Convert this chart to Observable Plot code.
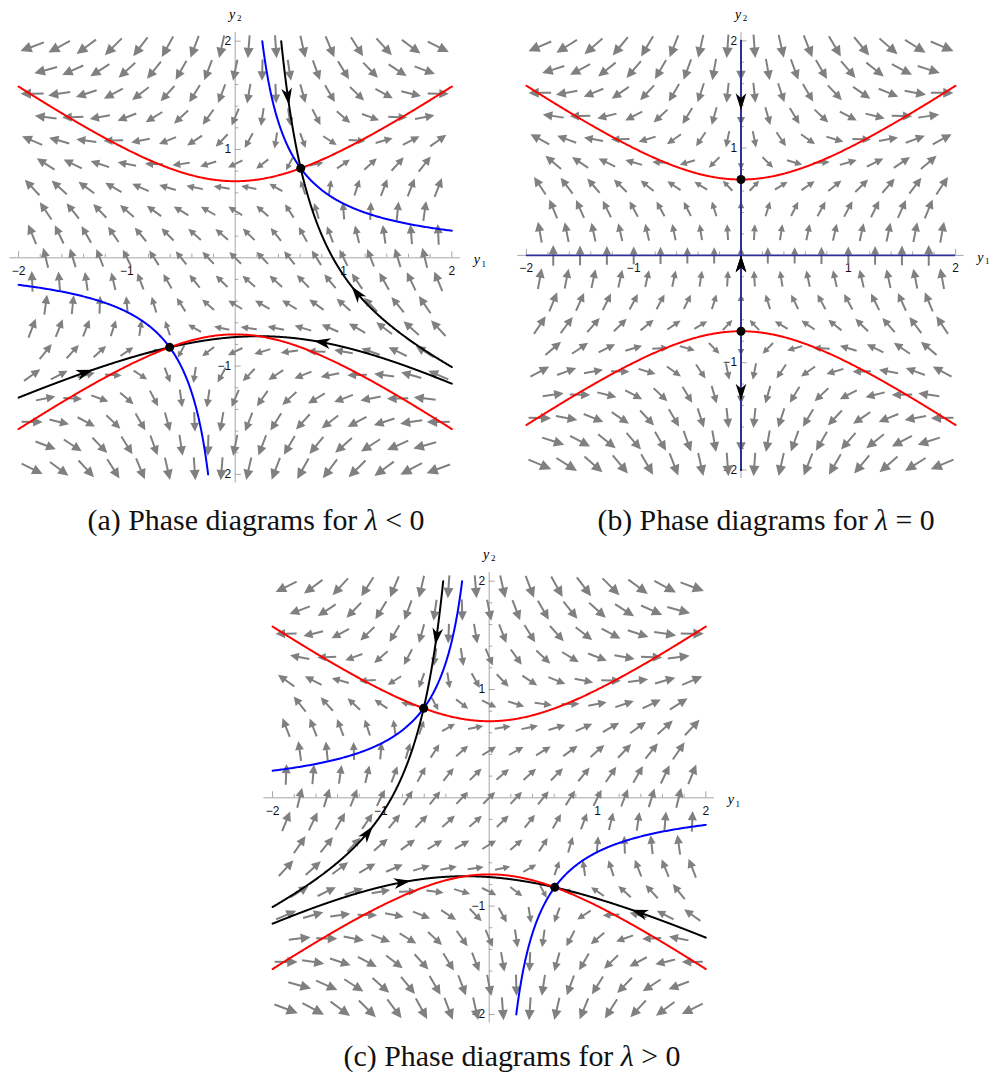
<!DOCTYPE html>
<html>
<head>
<meta charset="utf-8">
<script src="https://cdn.jsdelivr.net/npm/d3@7"></script>
<script src="https://cdn.jsdelivr.net/npm/@observablehq/plot@0.6"></script>
<style>
  body { margin: 0; background: #fff; }
  #fig { position: relative; width: 993px; height: 1074px; overflow: hidden; }
  .panel { position: absolute; }
  .cap {
    position: absolute; white-space: nowrap; color: #111;
    font-family: "Liberation Serif", "Times New Roman", serif; font-size: 23px;
    transform: translate(-50%, -50%);
  }
</style>
</head>
<body>
<div id="fig"></div>
<script>
// System: y1' = y1*y2 + λ,  y2' = (1 + y1²)/2 − y2²
const lambdaValues = [-0.5, 0, 0.5];
const panelTags = ["(a)", "(b)", "(c)"];
const relationSigns = ["<", "=", ">"];

// Equilibria (saddles) of each system
const equilibria = [
  [[0.6050, 0.8265], [-0.6050, -0.8265]],
  [[0, 0.7071], [0, -0.7071]],
  [[-0.6050, 0.8265], [0.6050, -0.8265]]
];
// Invariant manifolds drawn in black: [equilibrium index, kind]
const manifolds = [
  [[0, "stable"], [1, "stable"]],
  [[0, "stable"], [1, "unstable"]],
  [[0, "stable"], [1, "stable"]]
];

// Axis ticks
const majorTicks = [-2, -1, 1, 2];
const minorTicks = [-1.8, -1.6, -1.4, -1.2, -0.8, -0.6, -0.4, -0.2, 0.2, 0.4, 0.6, 0.8, 1.2, 1.4, 1.6, 1.8];

// Staggered sample lattice for the direction field
const gridRows = [-1.9486, -1.7321, -1.5155, -1.2990, -1.0825, -0.8660, -0.6495, -0.4330, -0.2165, 0,
                  0.2165, 0.4330, 0.6495, 0.8660, 1.0825, 1.2990, 1.5155, 1.7321, 1.9486];
const colsWide = [-1.875, -1.625, -1.375, -1.125, -0.875, -0.625, -0.375, -0.125,
                  0.125, 0.375, 0.625, 0.875, 1.125, 1.375, 1.625, 1.875];
const colsNarrow = [-1.75, -1.5, -1.25, -1, -0.75, -0.5, -0.25, 0, 0.25, 0.5, 0.75, 1, 1.25, 1.5, 1.75];

const panelPos = [[0, 0], [507.6, 0], [254, 540]];
const captionPos = [[256, 520], [766, 520], [512, 1056]];

function field(lam, p) {
  return [p[0] * p[1] + lam, 0.5 * (1 + p[0] * p[0]) - p[1] * p[1]];
}

function eigvec(e, kind) {
  const [a, b] = e;
  // Jacobian [[y2, y1], [y1, -2 y2]]
  const tr = -b, det = -2 * b * b - a * a;
  const s = Math.sqrt(tr * tr - 4 * det);
  const mu = kind === "stable" ? (tr - s) / 2 : (tr + s) / 2;
  let v = [a, mu - b];
  let n = Math.hypot(v[0], v[1]);
  if (n < 1e-9) { v = [1, 0]; n = 1; }
  return [v[0] / n, v[1] / n];
}

function traceBranch(lam, eqs, idx, dirSign, kind) {
  const e = eqs[idx];
  const v = eigvec(e, kind);
  const sgn = kind === "stable" ? -1 : 1;
  const h = 0.004;
  const g = q => {
    const f = field(lam, q);
    const m = Math.hypot(f[0], f[1]) || 1e-12;
    return [sgn * f[0] / m, sgn * f[1] / m];
  };
  const pts = [[e[0], e[1]]];
  let p = [e[0] + dirSign * 0.002 * v[0], e[1] + dirSign * 0.002 * v[1]];
  pts.push(p);
  for (let i = 0; i < 5000; i++) {
    const k1 = g(p);
    const k2 = g([p[0] + h / 2 * k1[0], p[1] + h / 2 * k1[1]]);
    const k3 = g([p[0] + h / 2 * k2[0], p[1] + h / 2 * k2[1]]);
    const k4 = g([p[0] + h * k3[0], p[1] + h * k3[1]]);
    const q = [p[0] + h / 6 * (k1[0] + 2 * k2[0] + 2 * k3[0] + k4[0]),
               p[1] + h / 6 * (k1[1] + 2 * k2[1] + 2 * k3[1] + k4[1])];
    if (Math.abs(q[0]) > 2 || Math.abs(q[1]) > 2) {
      let t = 1;
      for (const c of [0, 1]) {
        if (Math.abs(q[c]) > 2) t = Math.min(t, (Math.sign(q[c]) * 2 - p[c]) / (q[c] - p[c]));
      }
      pts.push([p[0] + t * (q[0] - p[0]), p[1] + t * (q[1] - p[1])]);
      break;
    }
    pts.push(q);
    p = q;
    if (eqs.some((o, j) => j !== idx && Math.hypot(q[0] - o[0], q[1] - o[1]) < 0.005)) break;
  }
  return pts;
}

function midHead(pts, kind) {
  const cum = [0];
  for (let i = 1; i < pts.length; i++) cum.push(cum[i - 1] + Math.hypot(pts[i][0] - pts[i - 1][0], pts[i][1] - pts[i - 1][1]));
  const half = cum[cum.length - 1] / 2;
  let i = 1;
  while (i < pts.length - 1 && cum[i] < half) i++;
  const t = (half - cum[i - 1]) / (cum[i] - cum[i - 1] || 1);
  const x = pts[i - 1][0] + t * (pts[i][0] - pts[i - 1][0]);
  const y = pts[i - 1][1] + t * (pts[i][1] - pts[i - 1][1]);
  let dx = pts[i][0] - pts[i - 1][0], dy = pts[i][1] - pts[i - 1][1];
  if (kind === "stable") { dx = -dx; dy = -dy; }
  return {x, y, rot: Math.atan2(dx, dy) * 180 / Math.PI};
}

// Filled arrow (shaft + triangular head), pointing along −y before rotation
const fieldArrow = {
  draw(ctx, l) {
    const sw = 1.0, hl = 0.45 * l, hw = 0.22 * l;
    ctx.moveTo(-sw, 0);
    ctx.lineTo(-sw, -(l - hl));
    ctx.lineTo(-hw, -(l - hl));
    ctx.lineTo(0, -l);
    ctx.lineTo(hw, -(l - hl));
    ctx.lineTo(sw, -(l - hl));
    ctx.lineTo(sw, 0);
    ctx.closePath();
  }
};
// Notched arrowhead for the trajectories
const headArrow = {
  draw(ctx, l) {
    const hw = 5.4;
    ctx.moveTo(0, -l);
    ctx.lineTo(hw, 0);
    ctx.lineTo(0, -0.28 * l);
    ctx.lineTo(-hw, 0);
    ctx.closePath();
  }
};

const fmt = d => (d < 0 ? "\u2212" + (-d) : String(d));
const axisGray = "#a6a6a6";
const sans = "Liberation Sans, Arial, sans-serif";
const serif = "Liberation Serif, Times New Roman, serif";

function makePanel(i) {
  const lam = lambdaValues[i];
  const eqs = equilibria[i];

  const cells = [];
  gridRows.forEach((y2, k) => (k % 2 === 0 ? colsWide : colsNarrow).forEach(y1 => {
    const [u, v] = field(lam, [y1, y2]);
    cells.push({x: y1, y: y2, m: Math.hypot(u, v), rot: Math.atan2(u, v) * 180 / Math.PI});
  }));
  const mMax = d3.max(cells, d => d.m);
  cells.forEach(d => { d.len = 25 * (0.5 + 0.5 * Math.pow(d.m / mMax, 0.6)); });

  const xs = d3.range(-2, 2.0001, 0.01);
  const red = [];
  xs.forEach(x => red.push({x, y: Math.sqrt((1 + x * x) / 2), z: "u"}));
  xs.forEach(x => red.push({x, y: -Math.sqrt((1 + x * x) / 2), z: "l"}));

  const blue = [];
  if (lam !== 0) {
    const a0 = Math.abs(lam) / 2;
    for (const s of [1, -1]) {
      for (let j = 0; j <= 300; j++) {
        const a = Math.exp(Math.log(a0) + j / 300 * (Math.log(2) - Math.log(a0)));
        blue.push({x: s * a, y: -lam / (s * a), z: s});
      }
    }
  }

  const black = [];
  const heads = [];
  manifolds[i].forEach(([idx, kind], mi) => {
    for (const dir of [1, -1]) {
      const pts = traceBranch(lam, eqs, idx, dir, kind);
      pts.forEach(p => black.push({x: p[0], y: p[1], z: mi + "_" + dir}));
      heads.push(midHead(pts, kind));
    }
  });

  const allTicks = majorTicks.concat(minorTicks);
  const tickLen = d => (majorTicks.includes(d) ? 0.056 : 0.033);
  const navy = "#30309a";

  const marks = [
    // axes through the origin
    Plot.ruleY([0], {x1: -2.08, x2: 2.08, stroke: axisGray, strokeWidth: 1}),
    Plot.ruleX([0], {y1: -2.08, y2: 2.08, stroke: axisGray, strokeWidth: 1}),
    Plot.ruleX(allTicks, {x: d => d, y1: 0, y2: tickLen, stroke: axisGray, strokeWidth: 1}),
    Plot.ruleY(allTicks, {y: d => d, x1: 0, x2: tickLen, stroke: axisGray, strokeWidth: 1}),
    Plot.text(majorTicks, {x: d => d, y: 0, text: fmt, dy: 13, fontSize: 12, fontFamily: sans, fill: "#111"}),
    Plot.text(majorTicks, {x: 0, y: d => d, text: fmt, dx: -4, textAnchor: "end", fontSize: 12, fontFamily: sans, fill: "#111"}),
    Plot.text([0], {x: 0, y: 2, text: () => "y", dx: -3, dy: -27, fontSize: 14, fontStyle: "italic", fontFamily: serif}),
    Plot.text([0], {x: 0, y: 2, text: () => "2", dx: 4, dy: -23, fontSize: 9, fontFamily: serif}),
    Plot.text([0], {x: 2, y: 0, text: () => "y", dx: 25, dy: 2, fontSize: 14, fontStyle: "italic", fontFamily: serif}),
    Plot.text([0], {x: 2, y: 0, text: () => "1", dx: 32, dy: 6, fontSize: 9, fontFamily: serif}),
    // direction field
    Plot.vector(cells, {x: "x", y: "y", length: "len", rotate: "rot", anchor: "middle",
      shape: fieldArrow, fill: "#808080", stroke: "none"}),
    // trajectories through the saddles
    Plot.line(black, {x: "x", y: "y", z: "z", stroke: "#000", strokeWidth: 2}),
    // nullclines
    Plot.line(red, {x: "x", y: "y", z: "z", stroke: "#ff0000", strokeWidth: 2}),
  ];
  if (lam !== 0) {
    marks.push(Plot.line(blue, {x: "x", y: "y", z: "z", stroke: "#0000ff", strokeWidth: 2}));
  } else {
    marks.push(Plot.ruleX([0], {y1: -2, y2: 2, stroke: navy, strokeWidth: 2}));
    marks.push(Plot.ruleY([0], {x1: -2, x2: 2, stroke: navy, strokeWidth: 2}));
  }
  marks.push(
    Plot.vector(heads, {x: "x", y: "y", rotate: "rot", length: 17, anchor: "end",
      shape: headArrow, fill: "#000", stroke: "none"}),
    Plot.dot(eqs, {x: d => d[0], y: d => d[1], r: 4.5, fill: "#000", stroke: "none"})
  );

  return Plot.plot({
    width: 490, height: 490,
    marginLeft: 18.1, marginRight: 38.7, marginTop: 40.7, marginBottom: 16.1,
    x: {domain: [-2, 2]}, y: {domain: [-2, 2]},
    length: {type: "identity"},
    axis: null,
    style: {background: "transparent", overflow: "visible"},
    marks
  });
}

const fig = document.getElementById("fig");
lambdaValues.forEach((lam, i) => {
  const wrap = document.createElement("div");
  wrap.className = "panel";
  wrap.style.left = panelPos[i][0] + "px";
  wrap.style.top = panelPos[i][1] + "px";
  wrap.appendChild(makePanel(i));
  fig.appendChild(wrap);

  const cap = document.createElement("div");
  cap.className = "cap";
  cap.style.left = captionPos[i][0] + "px";
  cap.style.top = captionPos[i][1] + "px";
  cap.innerHTML = `${panelTags[i]} Phase diagrams for <i>λ</i> ${relationSigns[i]} 0`;
  fig.appendChild(cap);
  const w = cap.getBoundingClientRect().width;
  cap.style.fontSize = (23 * 337 / w).toFixed(2) + "px";
});
</script>
</body>
</html>
